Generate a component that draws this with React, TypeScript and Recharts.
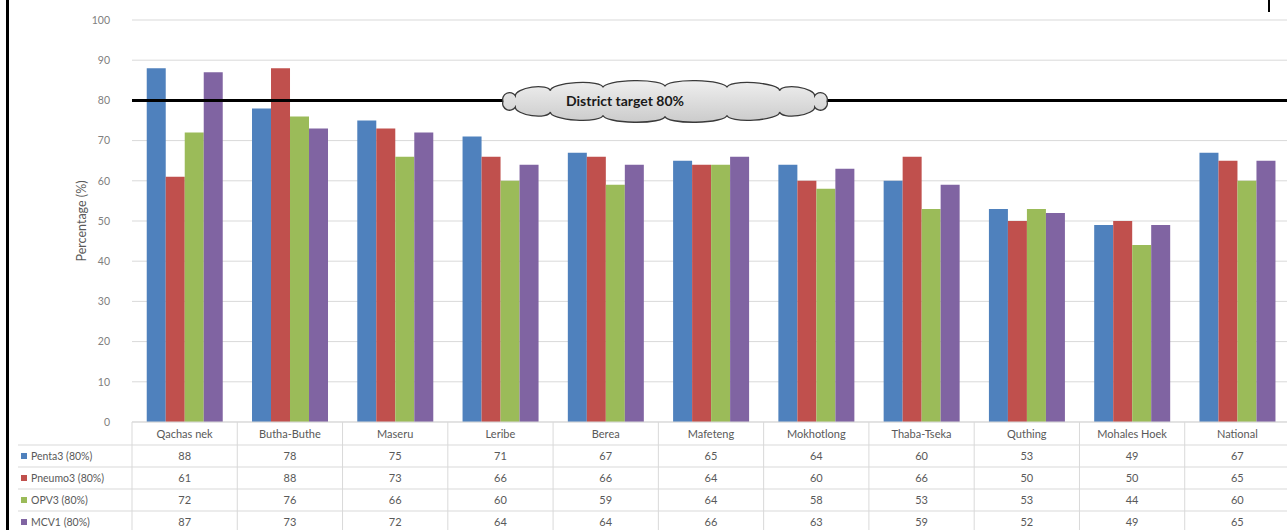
import React from 'react';
import {
  BarChart,
  Bar,
  XAxis,
  YAxis,
  CartesianGrid,
  ReferenceLine,
} from 'recharts';

const categories = [
  'Qachas nek',
  'Butha-Buthe',
  'Maseru',
  'Leribe',
  'Berea',
  'Mafeteng',
  'Mokhotlong',
  'Thaba-Tseka',
  'Quthing',
  'Mohales Hoek',
  'National',
];
const penta3 = [88, 78, 75, 71, 67, 65, 64, 60, 53, 49, 67];
const pneumo3 = [61, 88, 73, 66, 66, 64, 60, 66, 50, 50, 65];
const opv3 = [72, 76, 66, 60, 59, 64, 58, 53, 53, 44, 60];
const mcv1 = [87, 73, 72, 64, 64, 66, 63, 59, 52, 49, 65];
const yTicks = [0, 10, 20, 30, 40, 50, 60, 70, 80, 90, 100];
const TARGET = 80;
const targetLabel = 'District target 80%';

const series = [
  { key: 'penta3', name: 'Penta3 (80%)', color: '#4f81bd', values: penta3 },
  { key: 'pneumo3', name: 'Pneumo3 (80%)', color: '#c0504d', values: pneumo3 },
  { key: 'opv3', name: 'OPV3 (80%)', color: '#9bbb59', values: opv3 },
  { key: 'mcv1', name: 'MCV1 (80%)', color: '#8064a2', values: mcv1 },
];

const data = categories.map((name, i) => {
  const row: Record<string, string | number> = { name };
  series.forEach((s) => {
    row[s.key] = s.values[i];
  });
  return row;
});

const CHART_W = 1290;
const CHART_H = 530;
const Y_AXIS_W = 132;
const BAND = (CHART_W - Y_AXIS_W) / categories.length;
const ROW_H = 22;
const HEADER_H = 23;
const FONT = 'Lato, "Open Sans", sans-serif';
const GRID = '#d9d9d9';
const TEXT = '#595959';

// scalloped outline made of half-ellipse bumps around a flat ellipse
function cloudPath(cx: number, cy: number, rx: number, ry: number, n: number, bump: number) {
  const pts: [number, number][] = [];
  for (let i = 0; i < n; i++) {
    const t = (Math.PI * 2 * i) / n + Math.PI;
    pts.push([cx + rx * Math.cos(t), cy + ry * Math.sin(t)]);
  }
  let d = `M ${pts[0][0].toFixed(1)} ${pts[0][1].toFixed(1)}`;
  for (let i = 1; i <= n; i++) {
    const [x0, y0] = pts[i - 1];
    const [x1, y1] = pts[i % n];
    const chord = Math.hypot(x1 - x0, y1 - y0);
    const rot = (Math.atan2(y1 - y0, x1 - x0) * 180) / Math.PI;
    d += ` A ${(chord / 2 + 0.01).toFixed(2)} ${bump} ${rot.toFixed(1)} 0 1 ${x1.toFixed(1)} ${y1.toFixed(1)}`;
  }
  return d + ' Z';
}

function TargetCloud(props: any) {
  const vb = props.viewBox || { x: 0, y: 0 };
  const cx = vb.x + 533;
  const cy = vb.y + 1;
  return (
    <g>
      <defs>
        <linearGradient id="cloudFill" x1="0" y1="0" x2="0" y2="1">
          <stop offset="0%" stopColor="#efefef" />
          <stop offset="100%" stopColor="#cbcbcb" />
        </linearGradient>
      </defs>
      <path
        d={cloudPath(cx, cy, 162, 15, 16, 6.5)}
        fill="url(#cloudFill)"
        stroke="#3a3a3a"
        strokeWidth={1.3}
      />
      <text
        x={cx - 40}
        y={cy + 5}
        textAnchor="middle"
        fontFamily={FONT}
        fontWeight="bold"
        fontSize={14}
        fill="#1a1a1a"
      >
        {targetLabel}
      </text>
    </g>
  );
}

function YTitle(props: any) {
  const vb = props.viewBox || { x: 0, y: 0, width: 0, height: 0 };
  const x = vb.x + 86;
  const y = vb.y + vb.height / 2;
  return (
    <text
      x={x}
      y={y}
      transform={`rotate(-90, ${x}, ${y})`}
      textAnchor="middle"
      fontFamily={FONT}
      fontSize={12.5}
      fill={TEXT}
    >
      Percentage (%)
    </text>
  );
}

// each x tick draws its whole column of the data table
function TableColumn(props: any) {
  const { x, y, payload } = props;
  const idx = payload.index;
  const left = x - BAND / 2;
  const right = x + BAND / 2;
  const bottom = y + HEADER_H + ROW_H * series.length + 4;
  return (
    <g fontFamily={FONT} fontSize={11} fill={TEXT}>
      <line x1={left} y1={y} x2={left} y2={bottom} stroke={GRID} />
      {idx === categories.length - 1 && (
        <line x1={right} y1={y} x2={right} y2={bottom} stroke={GRID} />
      )}
      <text x={x} y={y + 16} textAnchor="middle">
        {payload.value}
      </text>
      {series.map((s, r) => {
        const top = y + HEADER_H + ROW_H * r;
        return (
          <g key={s.key}>
            <line x1={left} y1={top} x2={right} y2={top} stroke={GRID} />
            <text x={x} y={top + 15} textAnchor="middle">
              {s.values[idx]}
            </text>
            {idx === 0 && (
              <g>
                <line x1={18} y1={top} x2={left} y2={top} stroke={GRID} />
                <rect x={21} y={top + 8} width={6} height={6} fill={s.color} />
                <text x={31} y={top + 15} fontSize={10.5}>
                  {s.name}
                </text>
              </g>
            )}
          </g>
        );
      })}
    </g>
  );
}

export default function App() {
  return (
    <div
      style={{
        position: 'absolute',
        left: 0,
        top: 0,
        width: 1287,
        height: CHART_H,
        overflow: 'hidden',
        background: '#fff',
      }}
    >
      <div style={{ position: 'absolute', left: 6, top: 0, width: 3, height: CHART_H, background: '#000' }} />
      <div style={{ position: 'absolute', left: 1268, top: 0, width: 2, height: 12, background: '#000' }} />
      <BarChart
        width={CHART_W}
        height={CHART_H}
        data={data}
        margin={{ top: 20, right: 0, bottom: 8, left: 0 }}
        barCategoryGap="14%"
        barGap={0}
      >
        <CartesianGrid vertical={false} stroke={GRID} />
        <XAxis
          dataKey="name"
          height={100}
          axisLine={{ stroke: GRID }}
          tickLine={false}
          tickSize={0}
          tickMargin={0}
          interval={0}
          tick={<TableColumn />}
        />
        <YAxis
          width={Y_AXIS_W}
          domain={[0, 100]}
          ticks={yTicks}
          axisLine={false}
          tickLine={false}
          tickSize={0}
          tickMargin={22}
          tick={{ fontSize: 10.5, fill: '#808080', fontFamily: FONT }}
          label={<YTitle />}
        />
        {series.map((s) => (
          <Bar
            key={s.key}
            dataKey={s.key}
            name={s.name}
            fill={s.color}
            isAnimationActive={false}
          />
        ))}
        <ReferenceLine
          y={TARGET}
          stroke="#000"
          strokeWidth={3}
          label={<TargetCloud />}
        />
      </BarChart>
    </div>
  );
}
